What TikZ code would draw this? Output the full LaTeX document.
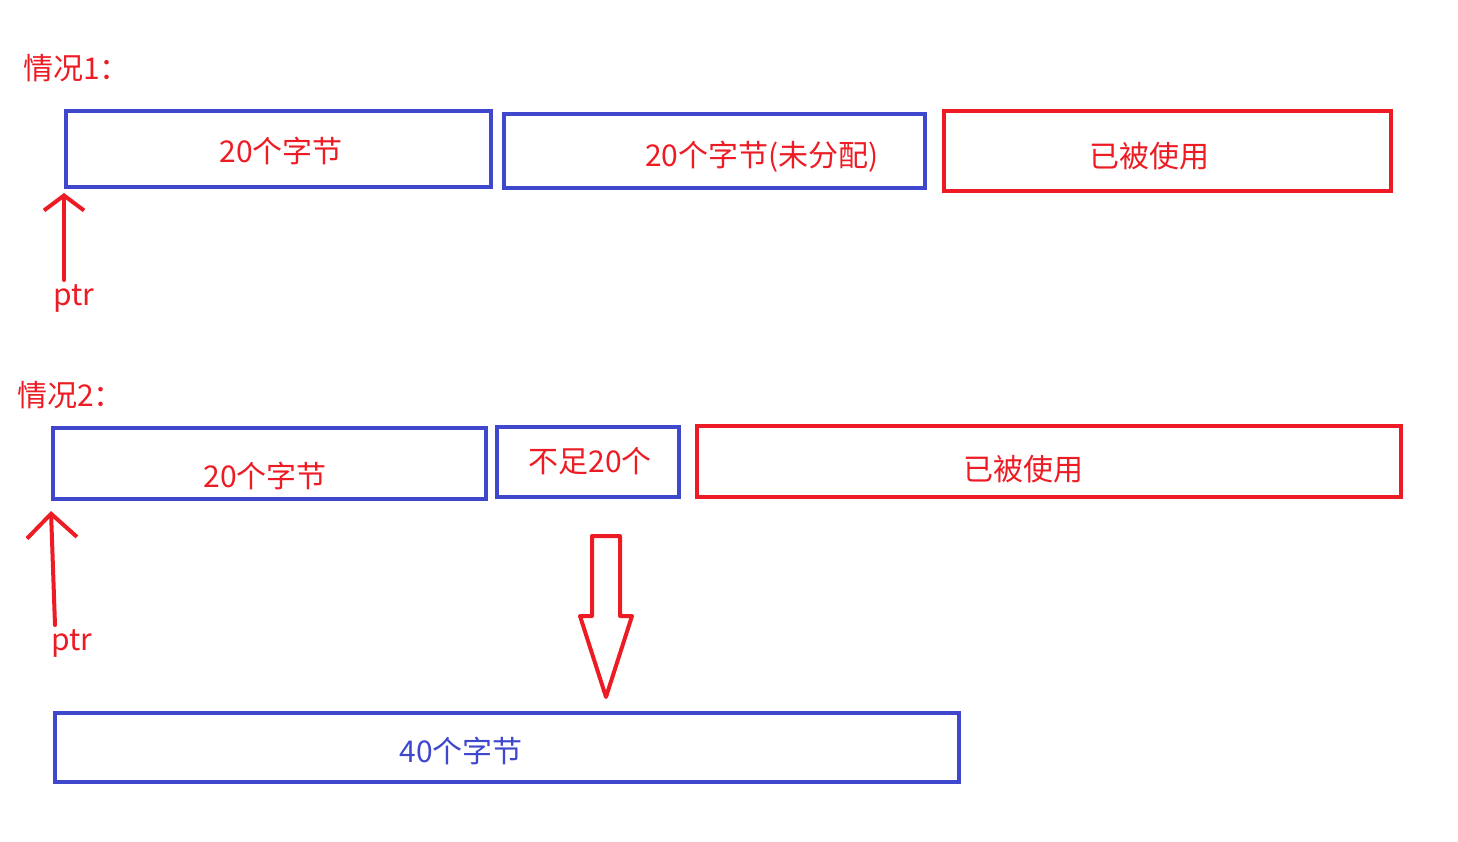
\documentclass[tikz,border=0pt]{standalone}
\usepackage{fontspec}
\setmainfont{Noto Sans CJK SC}
\usetikzlibrary{arrows.meta}
\definecolor{paintblue}{RGB}{63,72,204}
\definecolor{paintred}{RGB}{237,28,36}
\tikzset{
  blockblue/.style={draw=paintblue, line width=4pt, inner sep=0pt},
  blockred/.style={draw=paintred, line width=4pt, inner sep=0pt},
  lbl/.style={text=paintred, font=\fontsize{30}{33}\selectfont, inner sep=0pt},
  ptrarrow/.style={draw=paintred, line width=4pt, line cap=round,
    -{Straight Barb[length=15pt,width=40pt,line width=4pt]}},
}
\begin{document}
\begin{tikzpicture}[x=1pt, y=-1pt]
  \useasboundingbox (0,0) rectangle (1458,842);
  % case 1
  \node[lbl, anchor=west] (title1) at (23,68) {情况1：};
  \node[blockblue, minimum width=425pt, minimum height=76pt] (a1) at (278.5,149) {};
  \node[blockblue, minimum width=421pt, minimum height=74pt] (b1) at (714.5,151) {};
  \node[blockred, minimum width=447pt, minimum height=80pt] (c1) at (1167.5,151) {};
  \node[lbl] (a1txt) at (281,151) {20个字节};
  \node[lbl] (b1txt) at (762,157) {20个字节(未分配)};
  \node[lbl] (c1txt) at (1149,156) {已被使用};
  \node[lbl] (ptr1) at (74,298) {ptr};
  \coordinate (p1tail) at (64,280);
  \draw[ptrarrow] (p1tail) -- ([yshift=-4pt]a1.south west);
  % case 2
  \node[lbl, anchor=west] (title2) at (17,395) {情况2：};
  \node[blockblue, minimum width=433pt, minimum height=71pt] (a2) at (269.5,463.5) {};
  \node[blockblue, minimum width=182pt, minimum height=70pt] (b2) at (588,462) {};
  \node[blockred, minimum width=704pt, minimum height=71pt] (c2) at (1049,461.5) {};
  \node[lbl] (a2txt) at (265,476) {20个字节};
  \node[lbl] (b2txt) at (590,461) {不足20个};
  \node[lbl] (c2txt) at (1023,469) {已被使用};
  \node[lbl] (ptr2) at (72,643) {ptr};
  \coordinate (p2tail) at (55,625);
  \draw[ptrarrow, -{Straight Barb[length=24pt,width=50pt,line width=4pt]}]
    (p2tail) -- ([yshift=-10pt]a2.south west);
  % hollow arrow down
  \coordinate (big) at (606,536);
  \draw[paintred, line width=4pt, line join=round]
    ([xshift=-14pt]big) -- ([xshift=14pt]big) -- ++(0,80) -- ++(12,0)
    -- (606,697) -- (580,616) -- ++(12,0) -- cycle;
  % merged block
  \node[blockblue, minimum width=904pt, minimum height=69pt] (m2) at (507,747.5) {};
  \node[lbl, text=paintblue] (m2txt) at (461,751) {40个字节};
\end{tikzpicture}
\end{document}
